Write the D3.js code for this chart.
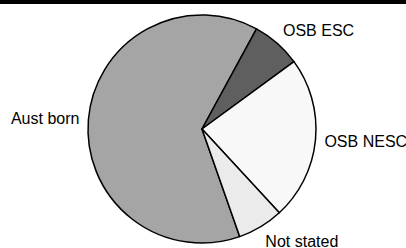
<!DOCTYPE html>
<html>
<head>
<meta charset="utf-8">
<script src="https://cdn.jsdelivr.net/npm/d3@7"></script>
<style>
  body { margin: 0; background: #fff; }
  svg { display: block; }
  text { font-family: "Liberation Sans", Arial, sans-serif; font-size: 16px; fill: #000; }
</style>
</head>
<body>
<svg id="chart"></svg>
<script>
// birthplace shares (%)
const categories = ["Aust born", "OSB ESC", "OSB NESC", "Not stated"];
const shares = [63.3, 7.0, 23.2, 6.5];
const fills = ["#a5a5a5", "#5f5f5f", "#f8f8f8", "#ebebeb"];

const width = 406, height = 248;
const cx = 202, cy = 129, radius = 114;
const firstSliceAngle = 160.7; // degrees, clockwise from 12 o'clock

const svg = d3.select("#chart")
  .attr("width", width)
  .attr("height", height);

// black strip along the top edge
svg.append("rect")
  .attr("x", 0).attr("y", 0)
  .attr("width", width).attr("height", 4)
  .attr("fill", "#000");

const data = categories.map((c, i) => ({ name: c, value: shares[i], fill: fills[i] }));

const pie = d3.pie()
  .sort(null)
  .value(d => d.value)
  .startAngle(firstSliceAngle * Math.PI / 180)
  .endAngle((firstSliceAngle + 360) * Math.PI / 180);

const arc = d3.arc().innerRadius(0).outerRadius(radius);

const g = svg.append("g").attr("transform", `translate(${cx},${cy})`);

const arcs = pie(data);

g.selectAll("path")
  .data(arcs)
  .enter()
  .append("path")
  .attr("d", arc)
  .attr("fill", d => d.data.fill)
  .attr("stroke", "#000")
  .attr("stroke-width", 1.5)
  .attr("stroke-linejoin", "round");

// labels sit just outside the rim at each slice's mid angle
const labelR = 123;
g.selectAll("text")
  .data(arcs)
  .enter()
  .append("text")
  .attr("x", d => {
    const a = (d.startAngle + d.endAngle) / 2;
    return labelR * Math.sin(a);
  })
  .attr("y", d => {
    const a = (d.startAngle + d.endAngle) / 2;
    const py = -labelR * Math.cos(a);
    return py - Math.cos(a) * 8 + 5.5;
  })
  .attr("text-anchor", d => {
    const a = (d.startAngle + d.endAngle) / 2;
    return Math.sin(a) >= 0 ? "start" : "end";
  })
  .text(d => d.data.name);
</script>
</body>
</html>
